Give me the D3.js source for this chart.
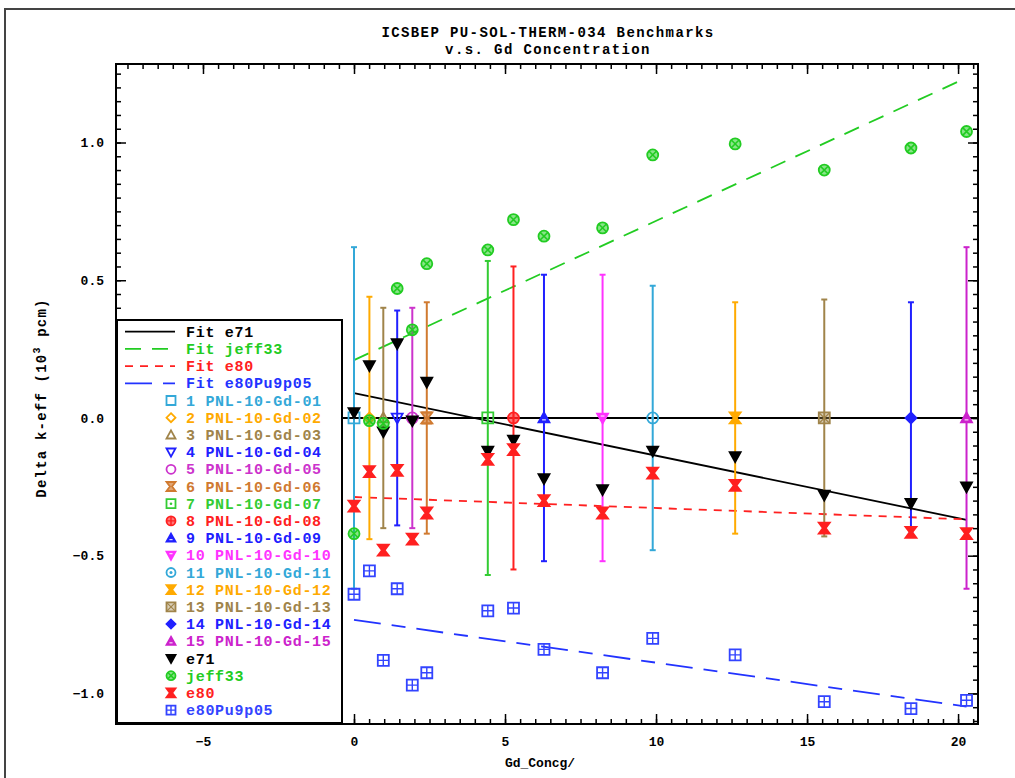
<!DOCTYPE html>
<html>
<head>
<meta charset="utf-8">
<script src="https://cdn.jsdelivr.net/npm/d3@7"></script>
<style>
  body { margin: 0; background: #fff; }
  text { font-family: "Liberation Mono", "DejaVu Sans Mono", monospace; font-weight: bold; }
</style>
</head>
<body>
<div id="chart"></div>
<script>
// Gd concentration of each benchmark (g/L)
const gdConc = [0.0, 0.51, 0.97, 1.43, 1.93, 2.41, 4.43, 5.28, 6.29, 8.23, 9.89, 12.62, 15.57, 18.44, 20.28];
const benchNames = ["1 PNL-10-Gd-01","2 PNL-10-Gd-02","3 PNL-10-Gd-03","4 PNL-10-Gd-04","5 PNL-10-Gd-05",
  "6 PNL-10-Gd-06","7 PNL-10-Gd-07","8 PNL-10-Gd-08","9 PNL-10-Gd-09","10 PNL-10-Gd-10",
  "11 PNL-10-Gd-11","12 PNL-10-Gd-12","13 PNL-10-Gd-13","14 PNL-10-Gd-14","15 PNL-10-Gd-15"];
const benchUnc = [0.62, 0.44, 0.40, 0.39, 0.40, 0.42, 0.57, 0.55, 0.52, 0.52, 0.48, 0.42, 0.43, 0.42, 0.62];
const benchColors = ["#33a8d8","#ffaa00","#a0844a","#2020ff","#cc33cc","#d07a30","#33cc33","#ff2020",
  "#2020ff","#ff33ff","#33a8d8","#ffaa00","#a0844a","#2020ff","#cc22cc"];
const benchSyms = ["square","diamond","triUp","triDown","circle","hourglassBox","squareDot","circlePlus",
  "triUpBold","triDownBold","circleDot","hourglass","squareX","diamondFill","triUpBold"];

// calculated minus benchmark (10^3 pcm)
const e71 = [0.02, 0.19, -0.05, 0.27, -0.01, 0.13, -0.12, -0.08, -0.22, -0.26, -0.12, -0.14, -0.28, -0.31, -0.25];
const jeff33 = [-0.42, -0.01, -0.02, 0.47, 0.32, 0.56, 0.61, 0.72, 0.66, 0.69, 0.955, 0.995, 0.90, 0.98, 1.04];
const e80 = [-0.32, -0.195, -0.48, -0.19, -0.44, -0.345, -0.15, -0.115, -0.30, -0.345, -0.20, -0.245, -0.40, -0.415, -0.42];
const e80Pu9p05 = [-0.64, -0.555, -0.88, -0.62, -0.97, -0.925, -0.70, -0.69, -0.84, -0.925, -0.80, -0.86, -1.03, -1.055, -1.025];

// linear fits, value at first and last Gd point
const fitX = [0.0, 20.28];
const fitE71 = [0.09, -0.37];
const fitJeff33 = [0.21, 1.235];
const fitE80 = [-0.287, -0.368];
const fitE80Pu = [-0.733, -1.048];

const xMajor = [-5, 0, 5, 10, 15, 20];
const yMajor = [-1.0, -0.5, 0.0, 0.5, 1.0];

const W = 1015, H = 778;
const svg = d3.select("#chart").append("svg").attr("width", W).attr("height", H);

// page border
svg.append("rect").attr("x", 5).attr("y", 9).attr("width", W + 10).attr("height", H + 10)
  .attr("fill", "none").attr("stroke", "#444").attr("stroke-width", 2);

const L = 116, R = 978, T = 64, B = 724;
const x = d3.scaleLinear().domain([-7.88, 20.66]).range([L, R]);
const y = d3.scaleLinear().domain([-1.111, 1.285]).range([B, T]);

// title
svg.append("text").attr("x", 548).attr("y", 37).attr("text-anchor", "middle")
  .style("font-size", "14px").style("letter-spacing", "1.4px")
  .text("ICSBEP PU-SOL-THERM-034 Benchmarks");
svg.append("text").attr("x", 548).attr("y", 54).attr("text-anchor", "middle")
  .style("font-size", "14px").style("letter-spacing", "1.4px")
  .text("v.s. Gd Concentration");

// axes (ticks point inward)
const xMinor = d3.range(-7.5, 20.6, 0.5);
const yMinor = d3.range(-1.10, 1.27, 0.05).map(v => +v.toFixed(2));
const fmtY = d => (d < 0 ? "\u2212" : "") + Math.abs(d).toFixed(1);

function addAxis(gen, tr) {
  const g = svg.append("g").attr("transform", tr).call(gen);
  g.select(".domain").remove();
  g.selectAll("line").attr("stroke", "#000").attr("stroke-width", 1.5);
  return g;
}
addAxis(d3.axisBottom(x).tickValues(xMinor).tickSize(-5).tickFormat(""), `translate(0,${B})`);
const xb = addAxis(d3.axisBottom(x).tickValues(xMajor).tickSize(-10).tickPadding(13).tickFormat(d3.format("d")), `translate(0,${B})`);
xb.selectAll("text").style("font-size", "13px").attr("fill", "#000").style("font-family", "Liberation Mono");
addAxis(d3.axisTop(x).tickValues(xMinor).tickSize(-5).tickFormat(""), `translate(0,${T})`);
addAxis(d3.axisTop(x).tickValues(xMajor).tickSize(-10).tickFormat(""), `translate(0,${T})`);

addAxis(d3.axisLeft(y).tickValues(yMinor).tickSize(-5).tickFormat(""), `translate(${L},0)`);
const yl = addAxis(d3.axisLeft(y).tickValues(yMajor).tickSize(-10).tickPadding(12).tickFormat(fmtY), `translate(${L},0)`);
yl.selectAll("text").style("font-size", "13px").attr("fill", "#000").style("font-family", "Liberation Mono");
addAxis(d3.axisRight(y).tickValues(yMinor).tickSize(-5).tickFormat(""), `translate(${R},0)`);
addAxis(d3.axisRight(y).tickValues(yMajor).tickSize(-10).tickFormat(""), `translate(${R},0)`);

svg.append("rect").attr("x", L).attr("y", T).attr("width", R - L).attr("height", B - T)
  .attr("fill", "none").attr("stroke", "#000").attr("stroke-width", 2);

// axis titles
svg.append("text").attr("x", 540).attr("y", 767).attr("text-anchor", "middle")
  .style("font-size", "13px").text("Gd_Concg/");
const yt = svg.append("text").attr("transform", "translate(46,398) rotate(-90)")
  .attr("text-anchor", "middle").style("font-size", "14px").style("letter-spacing", "1.2px");
yt.append("tspan").text("Delta k-eff (10");
yt.append("tspan").attr("dy", -6).style("font-size", "10px").text("3");
yt.append("tspan").attr("dy", 6).text(" pcm)");

// marker symbols
function sym(g, type, color, s) {
  s = s || 5.5;
  const sw = 1.8;
  const p = (d, fill, w) => g.append("path").attr("d", d).attr("fill", fill || "none")
    .attr("stroke", color).attr("stroke-width", w || sw).attr("stroke-linejoin", "miter");
  const hg = `M${-s},${-s}H${s}L${s*0.25},0L${s},${s}H${-s}L${-s*0.25},0Z`;
  const tu = `M0,${-s}L${s},${s*0.8}H${-s}Z`;
  const td = `M0,${s}L${s},${-s*0.8}H${-s}Z`;
  switch (type) {
    case "square": p(`M${-s},${-s}H${s}V${s}H${-s}Z`); break;
    case "squareDot":
      p(`M${-s},${-s}H${s}V${s}H${-s}Z`);
      g.append("circle").attr("r", 1.3).attr("fill", color); break;
    case "squareX":
      p(`M${-s},${-s}H${s}V${s}H${-s}Z`, color + "66");
      p(`M${-s},${-s}L${s},${s}M${s},${-s}L${-s},${s}`, null, 1.2); break;
    case "squarePlus":
      p(`M${-s},${-s}H${s}V${s}H${-s}Z`);
      p(`M0,${-s}V${s}M${-s},0H${s}`, null, 1.4); break;
    case "diamond": p(`M0,${-s}L${s},0L0,${s}L${-s},0Z`); break;
    case "diamondFill": p(`M0,${-s}L${s},0L0,${s}L${-s},0Z`, color); break;
    case "triUp": p(tu); break;
    case "triDown": p(td); break;
    case "triUpBold": p(tu, color); g.append("path").attr("d", `M${-s*0.35},${s*0.35}H${s*0.35}`)
      .attr("stroke", "#fff").attr("stroke-width", 1); break;
    case "triDownBold": p(td, color); g.append("path").attr("d", `M${-s*0.35},${-s*0.35}H${s*0.35}`)
      .attr("stroke", "#fff").attr("stroke-width", 1); break;
    case "triDownFill": p(td, color); break;
    case "circle": g.append("circle").attr("r", s).attr("fill", "none").attr("stroke", color).attr("stroke-width", sw); break;
    case "circleDot":
      g.append("circle").attr("r", s).attr("fill", "none").attr("stroke", color).attr("stroke-width", sw);
      g.append("circle").attr("r", 1.5).attr("fill", color); break;
    case "circlePlus":
      g.append("circle").attr("r", s).attr("fill", color + "99").attr("stroke", color).attr("stroke-width", sw);
      p(`M0,${-s}V${s}M${-s},0H${s}`, null, 1.4); break;
    case "circleX":
      g.append("circle").attr("r", s).attr("fill", color + "88").attr("stroke", color).attr("stroke-width", sw);
      const k = s * 0.7;
      p(`M${-k},${-k}L${k},${k}M${k},${-k}L${-k},${k}`, null, 1.6); break;
    case "hourglass": p(hg, color); break;
    case "hourglassBox":
      p(hg, color + "aa");
      p(`M${-s},${-s}H${s}M${-s},${s}H${s}`, null, 2); break;
  }
  return g;
}

const plot = svg.append("g");
const line = d3.line().x(d => x(d[0])).y(d => y(d[1]));

// zero reference line
plot.append("path").datum([[-7.88, 0], [20.66, 0]]).attr("d", line)
  .attr("stroke", "#000").attr("stroke-width", 2).attr("fill", "none");

// fit lines
const fits = [
  { name: "Fit e71", vals: fitE71, color: "#000", dash: null },
  { name: "Fit jeff33", vals: fitJeff33, color: "#22cc22", dash: "16,11" },
  { name: "Fit e80", vals: fitE80, color: "#ff2020", dash: "8,7" },
  { name: "Fit e80Pu9p05", vals: fitE80Pu, color: "#2233ff", dash: "27,11,14,11" }
];
fits.forEach(f => {
  plot.append("path").datum(fitX.map((v, i) => [v, f.vals[i]])).attr("d", line)
    .attr("fill", "none").attr("stroke", f.color).attr("stroke-width", 1.8)
    .attr("stroke-dasharray", f.dash);
});

// benchmark error bars and markers
gdConc.forEach((gx, i) => {
  const c = benchColors[i];
  const cx = x(gx), y0 = y(-benchUnc[i]), y1 = y(benchUnc[i]);
  plot.append("line").attr("x1", cx).attr("x2", cx).attr("y1", y0).attr("y2", y1)
    .attr("stroke", c).attr("stroke-width", 2);
  [y0, y1].forEach(yy => plot.append("line").attr("x1", cx - 3).attr("x2", cx + 3)
    .attr("y1", yy).attr("y2", yy).attr("stroke", c).attr("stroke-width", 2));
});
gdConc.forEach((gx, i) => {
  sym(plot.append("g").attr("transform", `translate(${x(gx)},${y(0)})`), benchSyms[i], benchColors[i]);
});

// library results
const libs = [
  { name: "e71", vals: e71, color: "#000000", sym: "triDownFill" },
  { name: "jeff33", vals: jeff33, color: "#22cc22", sym: "circleX" },
  { name: "e80", vals: e80, color: "#ff2020", sym: "hourglass" },
  { name: "e80Pu9p05", vals: e80Pu9p05, color: "#3344ff", sym: "squarePlus" }
];
libs.forEach(lb => {
  lb.vals.forEach((v, i) => {
    sym(plot.append("g").attr("transform", `translate(${x(gdConc[i])},${y(v)})`), lb.sym, lb.color);
  });
});

// legend
const leg = svg.append("g");
leg.append("rect").attr("x", 117).attr("y", 320).attr("width", 225).attr("height", 403)
  .attr("fill", "#fff").attr("stroke", "#000").attr("stroke-width", 2);
const rowY = i => 331.7 + i * 17.2;
const legText = (i, t, c) => leg.append("text").attr("x", 186).attr("y", rowY(i) + 5)
  .attr("fill", c).style("font-size", "15px").style("letter-spacing", "0.7px").text(t);
fits.forEach((f, i) => {
  leg.append("line").attr("x1", 125).attr("x2", 175).attr("y1", rowY(i)).attr("y2", rowY(i))
    .attr("stroke", f.color).attr("stroke-width", 1.8).attr("stroke-dasharray", f.dash);
  legText(i, f.name, f.color);
});
benchNames.forEach((n, i) => {
  sym(leg.append("g").attr("transform", `translate(171,${rowY(i + 4)})`), benchSyms[i], benchColors[i], 4.5);
  legText(i + 4, n, benchColors[i]);
});
libs.forEach((lb, i) => {
  sym(leg.append("g").attr("transform", `translate(171,${rowY(i + 19)})`), lb.sym, lb.color, 4.5);
  legText(i + 19, lb.name, lb.color);
});
</script>
</body>
</html>
